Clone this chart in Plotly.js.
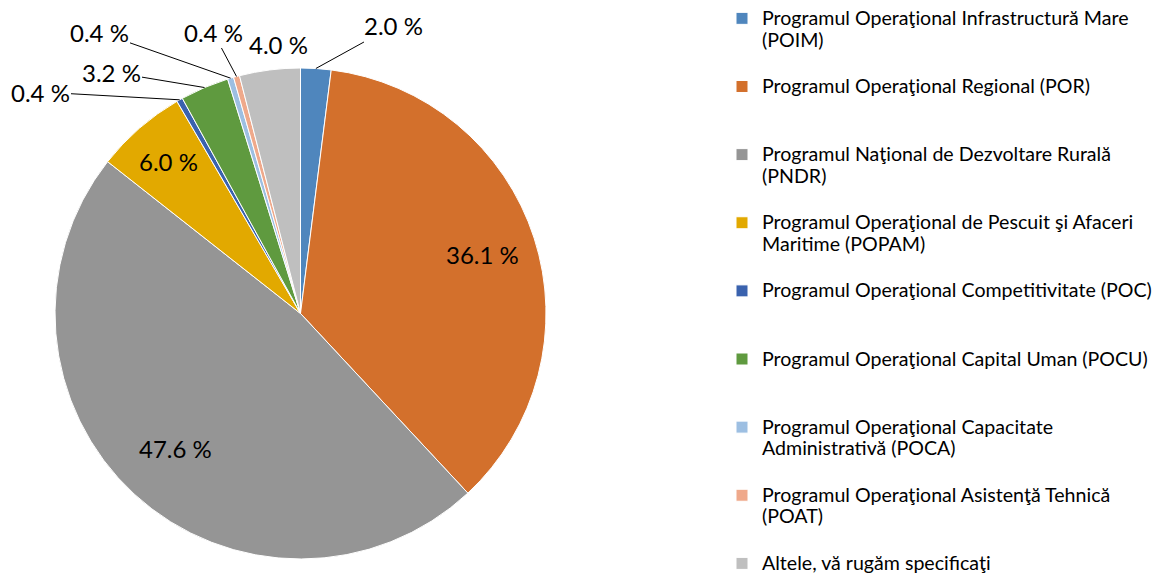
<!DOCTYPE html>
<html>
<head>
<meta charset="utf-8">
<script src="https://cdn.plot.ly/plotly-3.0.1.min.js"></script>
<style>
  body { margin: 0; background: #fff; }
  #programePie { width: 1156px; height: 574px; }
</style>
</head>
<body>
<div id="programePie"></div>
<script>
// date (procente)
const programLabels = [
    ['Programul Operaţional Infrastructură Mare', '(POIM)'],
    ['Programul Operaţional Regional (POR)'],
    ['Programul Naţional de Dezvoltare Rurală', '(PNDR)'],
    ['Programul Operaţional de Pescuit şi Afaceri', 'Maritime (POPAM)'],
    ['Programul Operaţional Competitivitate (POC)'],
    ['Programul Operaţional Capital Uman (POCU)'],
    ['Programul Operaţional Capacitate', 'Administrativă (POCA)'],
    ['Programul Operaţional Asistenţă Tehnică', '(POAT)'],
    ['Altele, vă rugăm specificaţi']
]
const programValues = [2.0, 36.1, 47.6, 6.0, 0.4, 3.2, 0.4, 0.4, 4.0]
const sliceColors = [
    '#4f86bd', '#d3702c', '#959595', '#e2a900', '#3a62ae',
    '#5f9a3f', '#9dbfe2', '#efa98b', '#bfbfbf'
]

// unde stau etichetele: r = fractie din raza (in felie), x/y = px pentru cele scoase afara
const labelSpots = [
    { x: 393, y: 26, line: true },
    { r: 0.78 },
    { r: 0.75 },
    { r: 0.82 },
    { x: 40, y: 92, line: true },
    { x: 111, y: 72, line: true },
    { x: 99, y: 32, line: true },
    { x: 213, y: 32, line: true },
    { x: 278, y: 44, line: false }
]

const W = 1156, H = 574
const pieLeft = 54, pieRight = 547, pieTop = 68, pieBottom = 559

function legendText(lines, last) {
    // 3 randuri pe element ca sa pastram spatierea din original
    const rows = lines.slice()
    if (!last) {
        while (rows.length < 3) rows.push('\u00a0')
    }
    return rows.map(t => `<span style="font-size:19.6px">${t}</span>`).join('<br>')
}

function labelAnnotations(gd) {
    // pozitiile se iau din geometria calculata de plotly
    const cd = gd.calcdata[0]
    const cx = cd[0].cx, cy = cd[0].cy
    const annotations = []
    cd.forEach((pt, i) => {
        const spot = labelSpots[i]
        const base = {
            text: `${programValues[i].toFixed(1)} %`,
            xref: 'paper',
            yref: 'paper',
            xanchor: 'center',
            yanchor: 'middle',
            font: { family: 'Lato, sans-serif', size: 24, color: '#000' }
        }
        if (spot.r) {
            const px = cx + pt.pxmid[0] * spot.r
            const py = cy + pt.pxmid[1] * spot.r
            annotations.push(Object.assign(base, { x: px / W, y: 1 - py / H, showarrow: false }))
        } else if (spot.line) {
            const px = cx + pt.pxmid[0]
            const py = cy + pt.pxmid[1]
            annotations.push(Object.assign(base, {
                x: px / W, y: 1 - py / H,
                showarrow: true, arrowhead: 0, arrowwidth: 1, arrowcolor: '#000',
                standoff: 0, ax: spot.x - px, ay: spot.y - py
            }))
        } else {
            annotations.push(Object.assign(base, { x: spot.x / W, y: 1 - spot.y / H, showarrow: false }))
        }
    })
    return annotations
}

function drawProgramePie() {
    const labels = programLabels.map((l, i) => legendText(l, i === programLabels.length - 1))

    var data = [{
        type: 'pie',
        labels: labels,
        values: programValues,
        sort: false,
        direction: 'clockwise',
        rotation: 0,
        textinfo: 'none',
        hoverinfo: 'none',
        marker: {
            colors: sliceColors,
            line: { color: '#ffffff', width: 1 }
        },
        domain: { x: [pieLeft / W, pieRight / W], y: [1 - pieBottom / H, 1 - pieTop / H] }
    }]

    var layout = {
        width: W,
        height: H,
        margin: { l: 0, r: 0, t: 0, b: 0, autoexpand: false },
        paper_bgcolor: '#fff',
        showlegend: true,
        legend: {
            x: 722 / W,
            y: 1 - 1 / H,
            xanchor: 'left',
            yanchor: 'top',
            valign: 'top',
            font: { family: 'Lato, sans-serif', size: 16.7, color: '#000' },
            itemwidth: 30
        }
    }

    Plotly.newPlot('programePie', data, layout, { staticPlot: true }).then(gd => {
        return Plotly.relayout(gd, { annotations: labelAnnotations(gd) })
    })
}

drawProgramePie()
</script>
</body>
</html>
